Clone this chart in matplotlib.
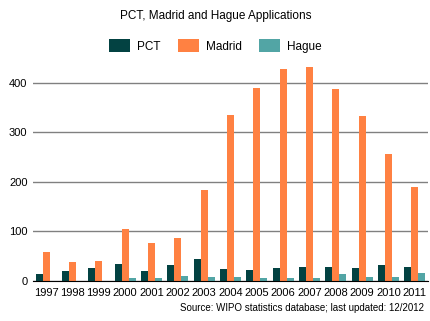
import numpy as np
from matplotlib import pyplot as plt

years = ['1997', '1998', '1999', '2000', '2001', '2002', '2003', '2004',
         '2005', '2006', '2007', '2008', '2009', '2010', '2011']
pct = [14, 20, 26, 34, 20, 32, 44, 24, 22, 26, 28, 28, 26, 32, 28]
madrid = [58, 38, 40, 105, 76, 87, 183, 334, 390, 427, 431, 388, 332, 257, 189]
hague = [0, 0, 0, 6, 6, 10, 8, 8, 6, 6, 6, 14, 8, 8, 16]

colors = ['#034242', '#ff8142', '#52a5a5']

plt.rcParams['font.family'] = ['Liberation Sans', 'DejaVu Sans']

fig = plt.figure(figsize=(4.31, 3.21), dpi=100)
ax = fig.add_axes([33 / 431, 40 / 321, 395 / 431, 223 / 321])

x = np.arange(len(years))
w = 0.267
ax.bar(x - w, pct, w, color=colors[0], label='PCT')
ax.bar(x, madrid, w, color=colors[1], label='Madrid')
ax.bar(x + w, hague, w, color=colors[2], label='Hague')

ax.set_xlim(-0.5, len(years) - 0.5)
ax.set_ylim(0, 450)
ax.set_yticks([0, 100, 200, 300, 400])
ax.set_xticks(x)
ax.set_xticklabels(years)
ax.yaxis.grid(True, color='#808080', linewidth=1)
ax.set_axisbelow(True)
for s in ['top', 'right', 'left']:
    ax.spines[s].set_visible(False)
ax.spines['bottom'].set_color('black')
ax.tick_params(axis='both', length=0, labelsize=8)
ax.tick_params(axis='x', pad=5)
ax.tick_params(axis='y', pad=4)

fig.text(0.5, 1 - 16 / 321, 'PCT, Madrid and Hague Applications',
         ha='center', va='center', fontsize=8.5)
fig.legend(loc='center', bbox_to_anchor=(0.5, 1 - 46 / 321), ncol=3,
           frameon=False, fontsize=8.5, handlelength=1.8, handleheight=1.2,
           columnspacing=1.45, handletextpad=0.6)
fig.text(424 / 431, 1 - 308 / 321,
         'Source: WIPO statistics database; last updated: 12/2012',
         ha='right', va='center', fontsize=7)

fig.savefig('out.png', dpi=100)
